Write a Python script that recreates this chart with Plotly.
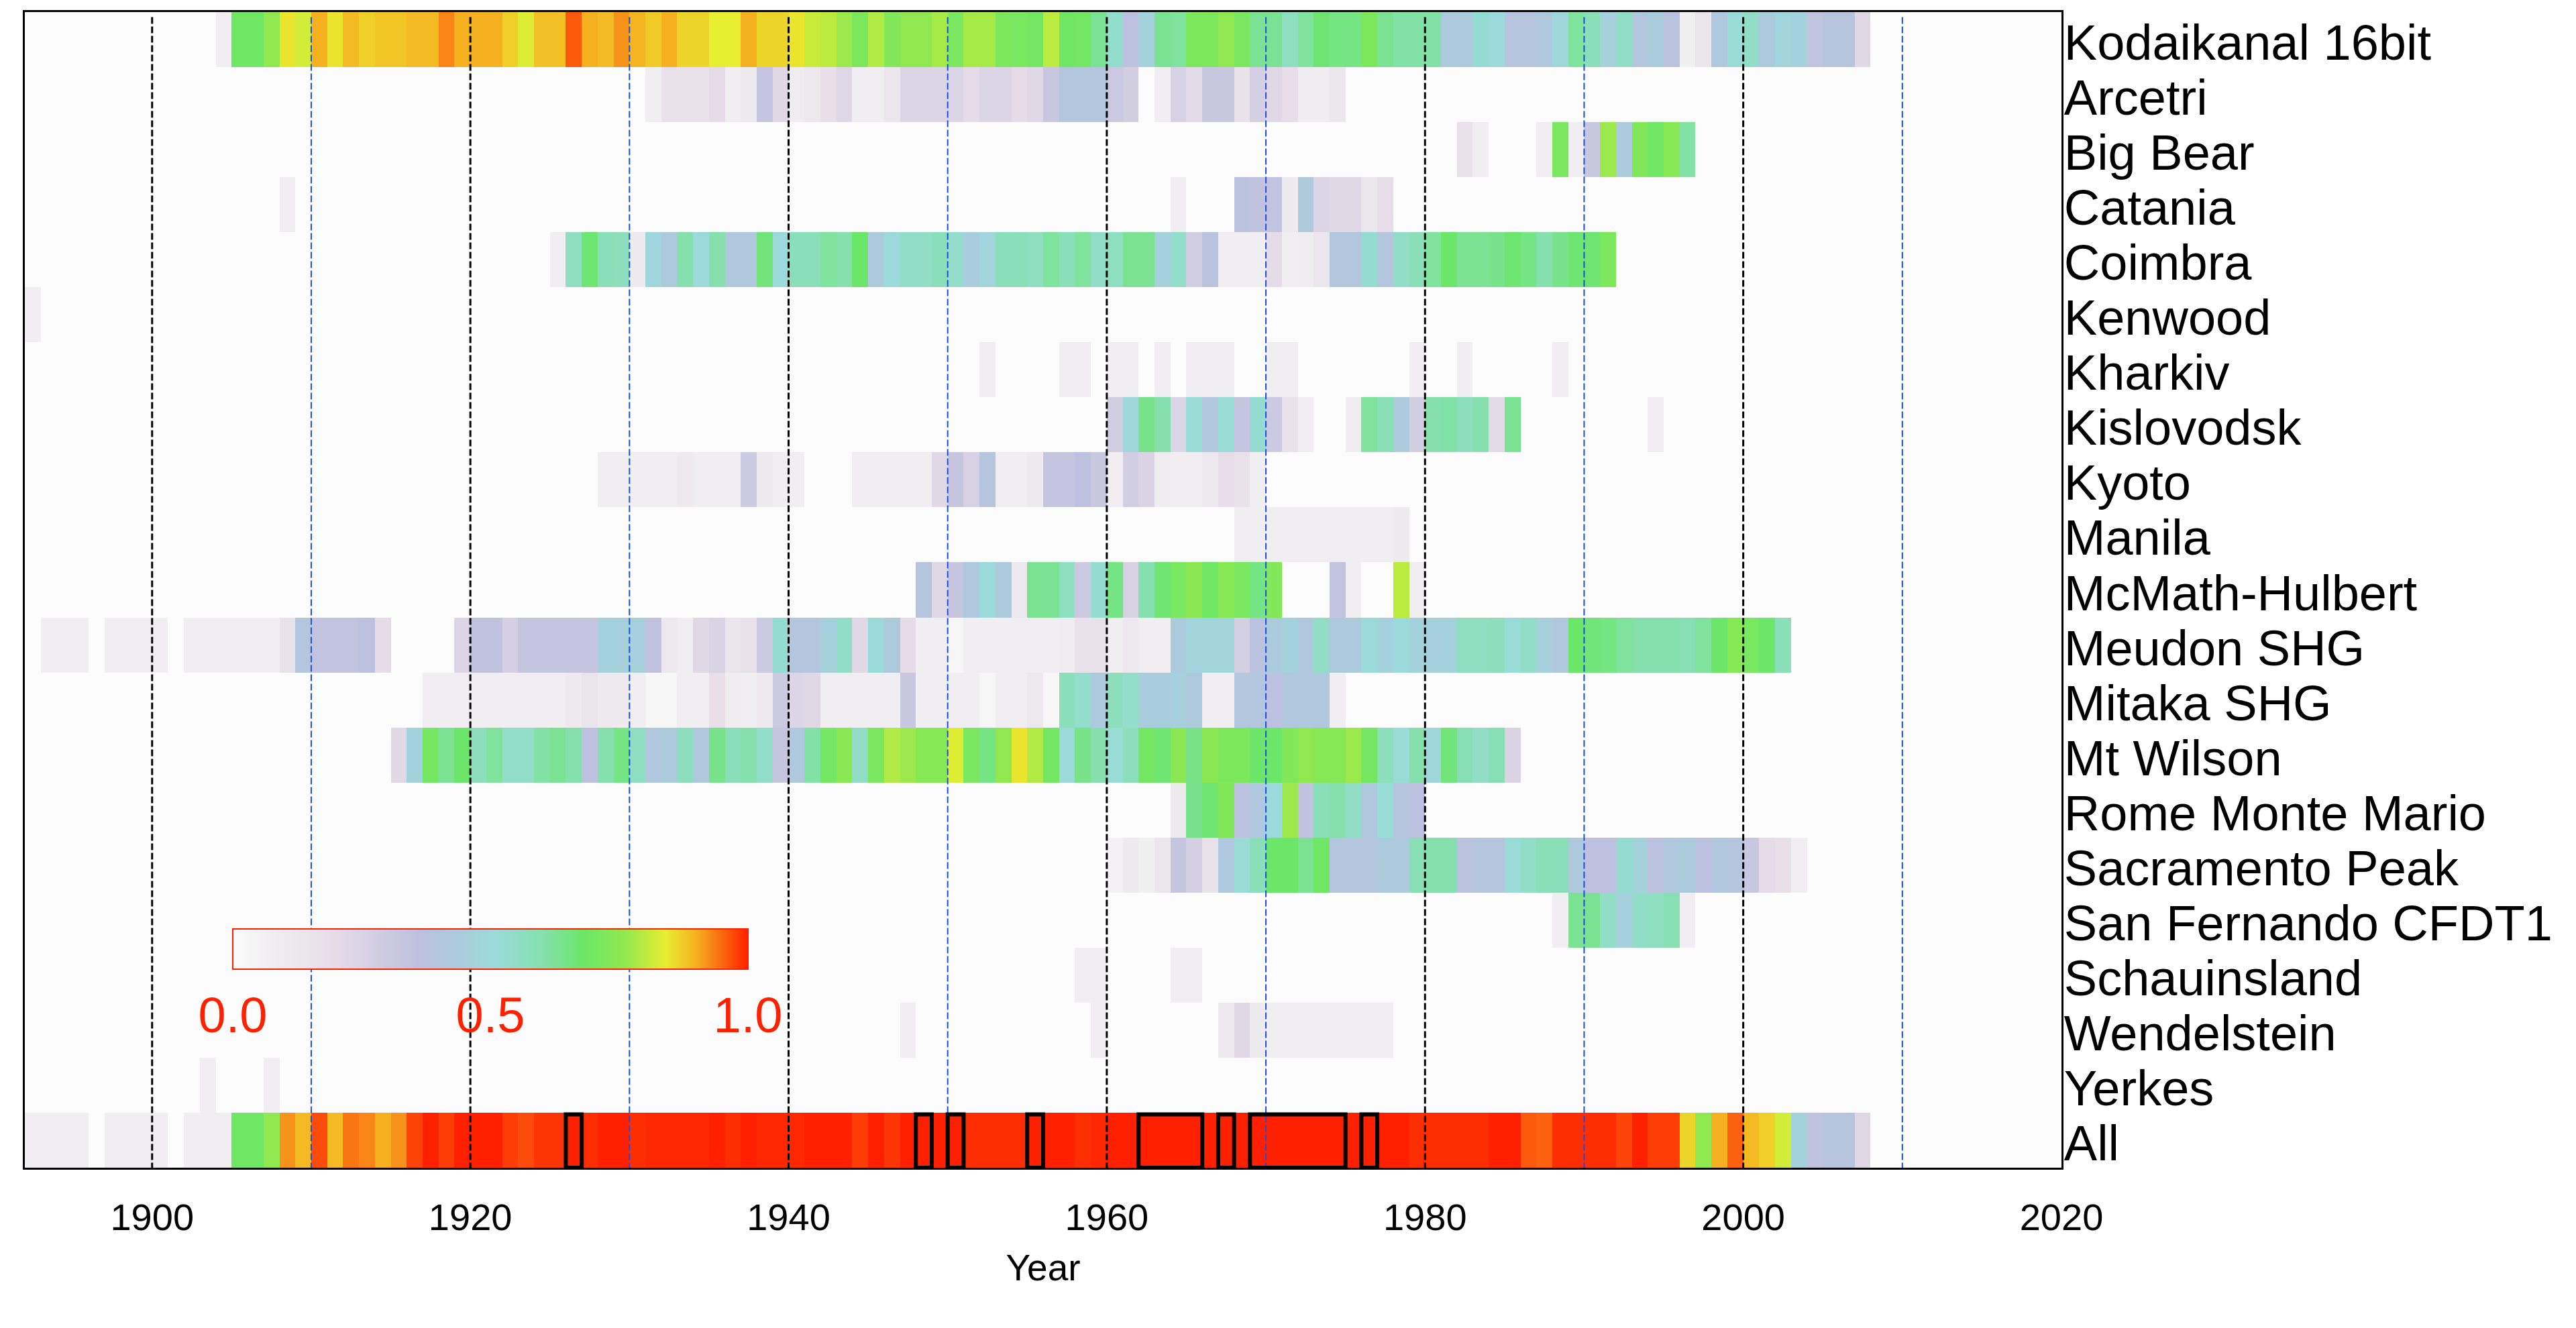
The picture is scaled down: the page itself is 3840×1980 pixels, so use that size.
import plotly.graph_objects as go

stations = ["Kodaikanal 16bit", "Arcetri", "Big Bear", "Catania", "Coimbra", "Kenwood", "Kharkiv",
            "Kislovodsk", "Kyoto", "Manila", "McMath-Hulbert", "Meudon SHG", "Mitaka SHG", "Mt Wilson",
            "Rome Monte Mario", "Sacramento Peak", "San Fernando CFDT1", "Schauinsland", "Wendelstein",
            "Yerkes", "All"]
N = None
first_year = 1892
last_year = 2020

kodaikanal_start = 1904
kodaikanal = [.08, .69, .69, .76, .85, .82, .90, .85, .89, .87, .88, .88, .89, .89, .93, .90, .90, .90, .87, .83,
              .885, .885, .96, .90, .89, .92, .895, .875, .90, .865, .865, .84, .84, .90, .865, .865, .85, .81, .80,
              .77, .72, .79, .73, .76, .76, .78, .71, .78, .78, .72, .71, .70, .80, .69, .70, .63, .54, .36, .47, .63,
              .62, .72, .72, .76, .71, .63, .63, .56, .62, .67, .65, .65, .72, .63, .61, .61, .61, .43, .44, .53, .50,
              .39, .39, .42, .49, .62, .58, .46, .55, .41, .45, .38, .07, .15, .42, .52, .55, .44, .48, .47, .34, .39,
              .39, .22]
arcetri_start = 1931
arcetri = [.08, .16, .16, .16, .20, .08, .10, .33, .22, .09, .12, .18, .23, .08, .08, .14, .24, .24, .24, .24, .20,
           .24, .24, .20, .22, .32, .41, .41, .41, .31, .28, N, .08, .26, .21, .32, .32, .16, .27, .22, .19, .09, .09,
           .13]
big_bear_start = 1982
big_bear = [.17, .08, N, N, N, .08, .71, .08, .32, .77, .44, .73, .69, .74, .61]
catania_start = 1908
catania = [.08] + [N] * 55 + [.08, N, N, N, .38, .35, .34, .10, .43, .24, .22, .22, .14, .19]
coimbra_start = 1925
coimbra = [.08, .56, .67, .58, .57, .10, .49, .43, .60, .50, .60, .42, .42, .66, .50, .58, .58, .62, .60, .68, .44,
           .50, .55, .55, .58, .54, .45, .48, .58, .58, .56, .62, .58, .62, .55, .56, .63, .63, .46, .54, .28, .38,
           .08, .08, .08, .20, .08, .09, .14, .41, .41, .53, .40, .55, .58, .62, .68, .63, .63, .64, .67, .65, .60,
           .64, .67, .67, .72]
kenwood_start = 1892
kenwood = [.08]
kharkiv_start = 1952
kharkiv = [.08, N, N, N, N, .08, .08, N, .08, .08, N, .08, N, .08, .08, .08, N, N, .08, .08, N, N, N, N, N, N, N,
           .08, N, N, .08, N, N, N, N, N, .08]
kislovodsk_start = 1960
kislovodsk = [.28, .49, .64, .60, .24, .52, .41, .52, .33, .53, .30, .17, .08, N, N, .09, .62, .58, .43, .28, .60, .61,
              .57, .60, .21, .63, N, N, N, N, N, N, N, N, .08]
kyoto_start = 1928
kyoto = [.08, .08, .08, .08, .08, .11, .08, .08, .08, .30, .10, .08, .08, N, N, N, .08, .08, .08, .08, .08, .22, .33,
         .26, .39, .08, .08, .10, .33, .33, .36, .32, .08, .28, .25, .09, .08, .08, .12, .19, .17, .08]
manila_start = 1968
manila = [.08, .08, .08, .08, .08, .08, .08, .08, .08, .08, .10]
mcmath_start = 1948
mcmath = [.39, .22, .33, .42, .50, .44, .12, .63, .63, .56, .30, .53, .65, .26, .60, .67, .71, .75, .69, .74, .71, .65,
          .73, N, N, N, .34, .08, N, N, .80, .08]
meudon_start = 1893
meudon = [.08, .08, .08, N, .08, .08, .08, .08, N, .08, .08, .08, .08, .08, .08, .17, .40, .34, .34, .34, .36, .20,
          N, N, N, N, .24, .35, .35, .27, .33, .33, .33, .33, .33, .47, .46, .46, .35, .12, .08, .22, .25, .15, .17,
          .30, .53, .40, .40, .46, .55, .22, .51, .43, .20, .08, .08, .03, .08, .08, .08, .08, .08, .08, .09, .16,
          .16, .08, .12, .08, .08, .44, .48, .48, .48, .27, .38, .44, .47, .42, .55, .43, .43, .51, .47, .50, .47,
          .46, .47, .56, .56, .57, .52, .55, .46, .42, .68, .66, .65, .62, .60, .60, .60, .59, .62, .68, .74, .71,
          .68, .58]
mitaka_start = 1917
mitaka = [.08, .08, .08, .08, .08, .08, .08, .08, .08, .11, .15, .11, .11, .08, .03, .03, .08, .08, .18, .09, .08, .11,
          .30, .24, .22, .08, .08, .08, .08, .08, .32, .08, .08, .08, .08, .03, .08, .08, .12, .03, .58, .54, .44,
          .57, .54, .45, .45, .46, .43, .08, .08, .41, .41, .36, .42, .42, .42, .08]
mt_wilson_start = 1915
mt_wilson = [.22, .47, .70, .63, .68, .57, .62, .54, .54, .61, .63, .60, .36, .60, .65, .56, .42, .44, .57, .42, .64,
             .58, .60, .54, .33, .42, .61, .70, .75, .55, .71, .79, .77, .74, .74, .83, .71, .65, .76, .85, .79, .70,
             .50, .64, .60, .52, .57, .70, .67, .75, .64, .75, .72, .72, .68, .68, .73, .76, .74, .74, .77, .70, .57,
             .52, .60, .49, .66, .59, .55, .59, .25]
rome_start = 1964
rome = [.10, .64, .67, .73, .37, .42, .50, .77, .35, .58, .60, .55, .42, .52, .39, .36]
sacramento_start = 1960
sacramento = [.06, .10, .07, .14, .33, .27, .16, .42, .52, .58, .68, .68, .63, .69, .40, .40, .40, .44, .44, .59, .60,
              .60, .38, .40, .40, .52, .55, .58, .58, .43, .36, .36, .53, .47, .37, .42, .44, .36, .42, .40, .32, .20,
              .18, .08]
san_fernando_start = 1988
san_fernando = [.08, .63, .63, .55, .46, .55, .56, .59, .08]
schauinsland_start = 1958
schauinsland = [.08, .08, N, N, N, N, .08, .08]
wendelstein_start = 1947
wendelstein = [.08] + [N] * 11 + [.08] + [N] * 7 + [.10, .22, .10, .08, .08, .08, .08, .08, .08, .08, .08]
yerkes_start = 1903
yerkes = [.08, N, N, N, .08]
all_start = 1892
all_obs = [.08, .08, .08, .08, N, .08, .08, .08, .08, N, .08, .08, .08, .69, .69, .76, .92, .89, .97, .89, .94, .93,
           .90, .92, .975, 1.0, .98, 1.0, 1.0, 1.0, .98, .97, .985, .985, 1.0, .99, 1.0, 1.0, .99, .995, .995, .995,
           .995, 1.0, .99, 1.0, .995, .995, .995, 1.0, 1.0, 1.0, .98, 1.0, .985, 1.0, 1.0, 1.0, 1.0, .99, .99, .99,
           .99, 1.0, 1.0, 1.0, .99, .995, 1.0, 1.0, 1.0, 1.0, 1.0, 1.0, 1.0, 1.0, 1.0, 1.0, 1.0, 1.0, 1.0, 1.0, 1.0,
           1.0, 1.0, 1.0, 1.0, .99, .99, .99, .99, .99, 1.0, 1.0, .96, .955, .99, .99, .99, .99, .975, 1.0, .98, .98,
           .865, .76, .90, .955, .89, .87, .82, .47, .35, .39, .39, .22]

full_box_start = [1926, 1948, 1950, 1955, 1962, 1967, 1969, 1976]
full_box_end = [1927, 1949, 1951, 1956, 1966, 1968, 1975, 1977]
black_years = [1900, 1920, 1940, 1960, 1980, 2000]
blue_years = [1910, 1930, 1950, 1970, 1990, 2010]
year_ticks = [1900, 1920, 1940, 1960, 1980, 2000, 2020]
legend_ticks = [0, .25, .5, .75, 1]
legend_tick_text = ["0.0", "", "0.5", "", "1.0"]

colorscale = [[0, "#fbfbfb"], [.08, "#f0eef0"], [.2, "#e6dce8"], [.3, "#cccae0"], [.36, "#bdc0de"], [.44, "#abcbdd"],
              [.51, "#9adbda"], [.6, "#85e0ae"], [.68, "#6be668"], [.76, "#90e850"], [.84, "#e8ee30"],
              [.90, "#f5b020"], [1, "#ff2000"]]

rows = [(kodaikanal_start, kodaikanal), (arcetri_start, arcetri), (big_bear_start, big_bear),
        (catania_start, catania), (coimbra_start, coimbra), (kenwood_start, kenwood), (kharkiv_start, kharkiv),
        (kislovodsk_start, kislovodsk), (kyoto_start, kyoto), (manila_start, manila), (mcmath_start, mcmath),
        (meudon_start, meudon), (mitaka_start, mitaka), (mt_wilson_start, mt_wilson), (rome_start, rome),
        (sacramento_start, sacramento), (san_fernando_start, san_fernando), (schauinsland_start, schauinsland),
        (wendelstein_start, wendelstein), (yerkes_start, yerkes), (all_start, all_obs)]

edges = list(range(first_year, last_year + 1))
z = []
for start, vals in rows:
    row = [None] * (last_year - first_year)
    for i, v in enumerate(vals):
        row[start - first_year + i] = v
    z.append(row)

W, H = 3840, 1980
L, R, T, B = 37, 3073, 18, 1741
BAR_L, BAR_W, BAR_T, BAR_H = 347, 768, 1385, 60
PW, PH = R - L, B - T

fig = go.Figure()
fig.add_trace(go.Heatmap(
    x=edges, y=list(range(len(stations))), z=z, zmin=0, zmax=1, colorscale=colorscale,
    hoverongaps=False,
    colorbar=dict(
        orientation="h", x=(BAR_L - L) / PW, xanchor="left",
        y=(B - BAR_T) / PH, yanchor="top", lenmode="pixels", len=BAR_W, thicknessmode="pixels", thickness=BAR_H,
        outlinecolor="#ff2000", outlinewidth=2, tickmode="array", tickvals=legend_ticks, ticktext=legend_tick_text,
        ticks="outside", ticklen=5, tickcolor="rgba(0,0,0,0)",
        tickfont=dict(family="Liberation Sans", size=74, color="#ff2000"), bgcolor="rgba(0,0,0,0)", borderwidth=0,
        xpad=0, ypad=0),
))

for years, color, width in [(black_years, "#000000", 3), (blue_years, "#1a4fe0", 2)]:
    xs, ys = [], []
    for yr in years:
        xs += [yr, yr, None]
        ys += [-0.41, 20.5, None]
    fig.add_trace(go.Scatter(x=xs, y=ys, mode="lines", showlegend=False, hoverinfo="skip",
                             line=dict(color=color, width=width, dash="10px,4px")))

bx, by = [], []
all_row = len(stations) - 1
for a, b in zip(full_box_start, full_box_end):
    bx += [a, a, b, b, a, None]
    by += [all_row + .5, all_row - .47, all_row - .47, all_row + .5, all_row + .5, None]
fig.add_trace(go.Scatter(x=bx, y=by, mode="lines", showlegend=False, hoverinfo="skip",
                         line=dict(color="#000000", width=6)))

legend_marks = []
for t in legend_ticks[1:-1]:
    px = (BAR_L + t * BAR_W - L) / PW
    for y0, y1 in [(BAR_T, BAR_T + 6), (BAR_T + BAR_H - 6, BAR_T + BAR_H)]:
        legend_marks.append(dict(type="line", xref="paper", yref="paper", x0=px, x1=px,
                                 y0=(B - y0) / PH, y1=(B - y1) / PH, line=dict(color="#ff2000", width=1)))

fig.update_layout(
    width=W, height=H, autosize=False, showlegend=False,
    paper_bgcolor="#ffffff", plot_bgcolor="#fcfcfc",
    margin=dict(l=L, r=W - R, t=T, b=H - B, autoexpand=False, pad=0),
    font=dict(family="Liberation Sans", color="#000000"),
    shapes=legend_marks,
    xaxis=dict(range=[first_year, last_year], tickmode="array", tickvals=year_ticks, ticks="outside", ticklen=23,
               tickcolor="rgba(0,0,0,0)", showgrid=False,
               zeroline=False, showline=True, mirror=True, linecolor="#000000", linewidth=3,
               tickfont=dict(size=56),
               title=dict(text="Year", font=dict(size=55), standoff=26)),
    yaxis=dict(range=[20.5, -0.5], tickmode="array", tickvals=[i + .05 for i in range(len(stations))],
               ticktext=stations,
               side="right", ticks="", showgrid=False, zeroline=False, showline=True, mirror=True,
               linecolor="#000000", linewidth=3, tickfont=dict(size=74), ticklabelstandoff=-14),
)

fig.write_html("out.html", config={"displayModeBar": False},
               post_script="document.body.style.margin='0';document.body.style.overflow='hidden';")
